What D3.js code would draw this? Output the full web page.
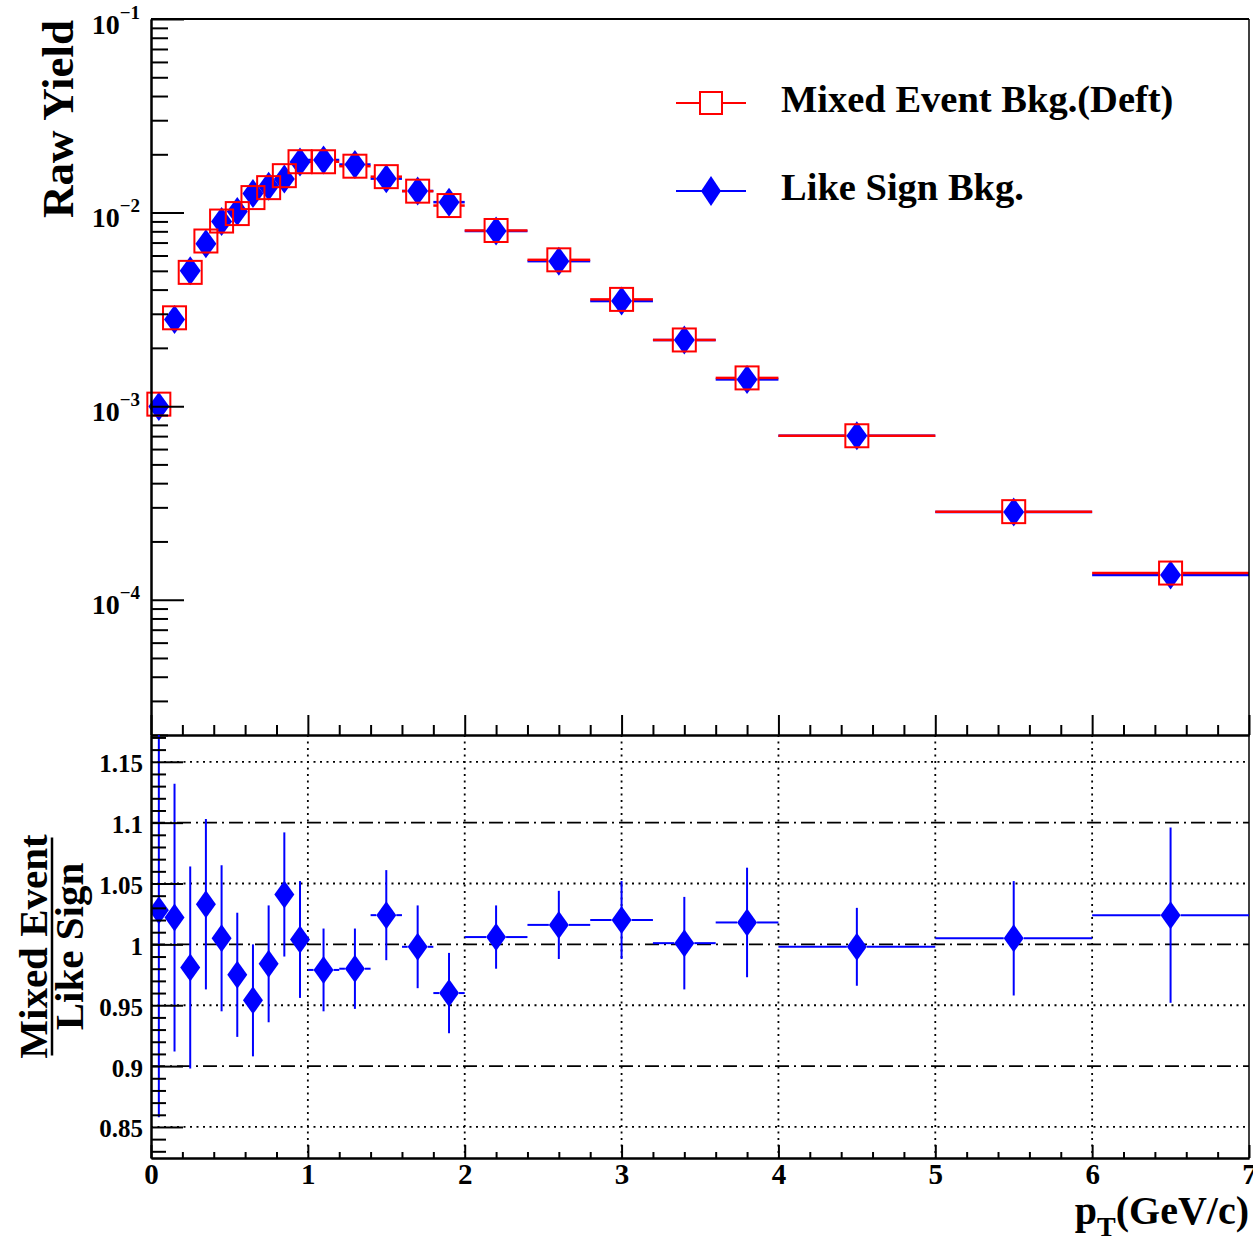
<!DOCTYPE html>
<html>
<head>
<meta charset="utf-8">
<script src="https://cdn.jsdelivr.net/npm/d3@7"></script>
<style>
  body { margin: 0; background: #fff; }
  text { font-family: "Liberation Serif", "Times New Roman", serif; font-weight: bold; fill: #000; }
</style>
</head>
<body>
<svg id="chart" width="1253" height="1250"></svg>
<script>
// pT bins (GeV/c)
const binLow  = [0, 0.1, 0.2, 0.3, 0.4, 0.5, 0.6, 0.7, 0.8, 0.9, 1.0, 1.2, 1.4, 1.6, 1.8, 2.0, 2.4, 2.8, 3.2, 3.6, 4, 5, 6];
const binHigh = [0.1, 0.2, 0.3, 0.4, 0.5, 0.6, 0.7, 0.8, 0.9, 1.0, 1.2, 1.4, 1.6, 1.8, 2.0, 2.4, 2.8, 3.2, 3.6, 4.0, 5, 6, 7];

// raw yields
const mixedYield = [1.024e-3, 2.86e-3, 4.91e-3, 7.13e-3, 9.04e-3, 9.88e-3, 1.195e-2, 1.345e-2, 1.551e-2, 1.831e-2,
  1.83e-2, 1.736e-2, 1.533e-2, 1.29e-2, 1.087e-2, 8.08e-3, 5.70e-3, 3.56e-3, 2.197e-3, 1.399e-3, 7.03e-4, 2.85e-4, 1.373e-4];
const likeSignYield = [9.96e-4, 2.80e-3, 5.0e-3, 6.90e-3, 9.0e-3, 1.013e-2, 1.253e-2, 1.367e-2, 1.49e-2, 1.824e-2,
  1.869e-2, 1.771e-2, 1.497e-2, 1.293e-2, 1.132e-2, 8.03e-3, 5.61e-3, 3.49e-3, 2.195e-3, 1.374e-3, 7.04e-4, 2.836e-4, 1.341e-4];

// mixed / like sign
const ratio = [1.028, 1.022, 0.981, 1.033, 1.005, 0.975, 0.954, 0.984, 1.041, 1.004,
  0.979, 0.980, 1.024, 0.998, 0.960, 1.006, 1.016, 1.020, 1.001, 1.018, 0.998, 1.005, 1.024];
const ratioErr = [0.17, 0.11, 0.083, 0.07, 0.06, 0.051, 0.046, 0.048, 0.051, 0.048,
  0.034, 0.033, 0.037, 0.034, 0.033, 0.026, 0.028, 0.032, 0.038, 0.045, 0.032, 0.047, 0.072];

const xMajor = [0, 1, 2, 3, 4, 5, 6, 7];
const yTopMajor = [1e-4, 1e-3, 1e-2, 1e-1];
const yBotMajor = [0.85, 0.9, 0.95, 1, 1.05, 1.1, 1.15];
const dashDotLevels = [0.9, 1, 1.1];
const dottedLevels = [0.85, 0.95, 1.05, 1.15];
const legendLabels = ["Mixed Event Bkg.(Deft)", "Like Sign Bkg."];

const RED = "#ff0000", BLUE = "#0000ff";

const svg = d3.select("#chart");
const L = 151, R = 1249, topT = 19, topB = 735, botB = 1158;

const x = d3.scaleLinear().domain([0, 7]).range([L, R]);
const yTop = d3.scaleLog().domain([2e-5, 0.1]).range([topB, topT]);
const yBot = d3.scaleLinear().domain([0.8245, 1.172]).range([botB, topB]);

const bins = binLow.map((lo, i) => ({
  lo, hi: binHigh[i], c: (lo + binHigh[i]) / 2,
  me: mixedYield[i], ls: likeSignYield[i], r: ratio[i], e: ratioErr[i]
}));

const diamond = "M0,-14.5L10.5,0L0,14.5L-10.5,0Z";

// ---------- upper pad ----------
const topG = svg.append("g");

// like sign first, mixed event drawn over it
function hBars(g, key, color, gap) {
  bins.forEach(d => {
    const cx = x(d.c), cy = yTop(d[key]);
    [[x(d.lo), cx - gap], [cx + gap, x(d.hi)]].forEach(([a, b]) => {
      if (b - a > 0.5) {
        g.append("line").attr("x1", a).attr("x2", b).attr("y1", cy).attr("y2", cy)
          .attr("stroke", color).attr("stroke-width", 2.5);
      }
    });
  });
}
hBars(topG, "ls", BLUE, 10.5);
hBars(topG, "me", RED, 11.5);

topG.selectAll("path.ls").data(bins).join("path")
  .attr("class", "ls")
  .attr("d", diamond)
  .attr("transform", d => `translate(${x(d.c)},${yTop(d.ls)})`)
  .attr("fill", BLUE);

topG.selectAll("rect.me").data(bins).join("rect")
  .attr("class", "me")
  .attr("x", d => x(d.c) - 11.5).attr("y", d => yTop(d.me) - 11.5)
  .attr("width", 23).attr("height", 23)
  .attr("fill", "none").attr("stroke", RED).attr("stroke-width", 2);

// frame top & right
svg.append("line").attr("x1", L).attr("x2", R).attr("y1", topT).attr("y2", topT)
  .attr("stroke", "#000").attr("stroke-width", 2);
svg.append("line").attr("x1", R).attr("x2", R).attr("y1", topT).attr("y2", botB)
  .attr("stroke", "#000").attr("stroke-width", 1.5);

// log y axis
const yTopMinor = yTop.ticks().filter(v => !yTopMajor.some(m => Math.abs(m - v) / m < 1e-6));
svg.append("g").attr("transform", `translate(${L},0)`)
  .call(d3.axisLeft(yTop).tickValues(yTopMinor).tickSizeInner(-17).tickSizeOuter(0).tickFormat(""));
const yTopAxis = svg.append("g").attr("transform", `translate(${L},0)`)
  .call(d3.axisLeft(yTop).tickValues(yTopMajor).tickSizeInner(-33).tickSizeOuter(0).tickFormat(""));
yTopAxis.selectAll(".tick").each(function (d) {
  const t = d3.select(this).append("text")
    .attr("x", -11).attr("y", 14).attr("text-anchor", "end");
  t.append("tspan").attr("font-size", 28).text("10");
  t.append("tspan").attr("font-size", 19).attr("dy", -15).text("\u2212" + Math.round(-Math.log10(d)));
});

// x ticks on the bottom edge of the upper pad
const xMinor = d3.range(0, 7.001, 0.2).filter(v => Math.abs(v - Math.round(v)) > 1e-6);
svg.append("g").attr("transform", `translate(0,${topB})`)
  .call(d3.axisBottom(x).tickValues(xMinor).tickSizeInner(-10).tickSizeOuter(0).tickFormat(""));
svg.append("g").attr("transform", `translate(0,${topB})`)
  .call(d3.axisBottom(x).tickValues(xMajor).tickSizeInner(-20).tickSizeOuter(0).tickFormat(""));

// ---------- lower pad ----------
const botG = svg.append("g");
svg.append("defs").append("clipPath").attr("id", "botClip")
  .append("rect").attr("x", L).attr("y", topB).attr("width", R - L).attr("height", botB - topB);

// grid
botG.selectAll("line.vgrid").data(xMajor.slice(1, -1)).join("line")
  .attr("class", "vgrid")
  .attr("x1", d => x(d)).attr("x2", d => x(d)).attr("y1", topB).attr("y2", botB)
  .attr("stroke", "#000").attr("stroke-width", 1.8).attr("stroke-dasharray", "2,4.5");
botG.selectAll("line.hgrid").data(dottedLevels).join("line")
  .attr("class", "hgrid")
  .attr("x1", L).attr("x2", R).attr("y1", d => yBot(d)).attr("y2", d => yBot(d))
  .attr("stroke", "#000").attr("stroke-width", 1.8).attr("stroke-dasharray", "2,4.5");
botG.selectAll("line.ref").data(dashDotLevels).join("line")
  .attr("class", "ref")
  .attr("x1", L).attr("x2", R).attr("y1", d => yBot(d)).attr("y2", d => yBot(d))
  .attr("stroke", "#000").attr("stroke-width", 1.8).attr("stroke-dasharray", "14,5,2,5");

// ratio points
const pts = botG.append("g").attr("clip-path", "url(#botClip)");
bins.forEach(d => {
  const cx = x(d.c), cy = yBot(d.r);
  pts.append("line").attr("x1", cx).attr("x2", cx)
    .attr("y1", yBot(d.r - d.e)).attr("y2", yBot(d.r + d.e))
    .attr("stroke", BLUE).attr("stroke-width", 2);
  [[x(d.lo), cx - 10], [cx + 10, x(d.hi)]].forEach(([a, b]) => {
    if (b - a > 0.5) {
      pts.append("line").attr("x1", a).attr("x2", b).attr("y1", cy).attr("y2", cy)
        .attr("stroke", BLUE).attr("stroke-width", 2);
    }
  });
});
pts.selectAll("path.rt").data(bins).join("path")
  .attr("class", "rt")
  .attr("d", "M0,-14L10,0L0,14L-10,0Z")
  .attr("transform", d => `translate(${x(d.c)},${yBot(d.r)})`)
  .attr("fill", BLUE);

// lower pad axes
const yBotMinor = d3.range(0.83, 1.171, 0.01).filter(v => !yBotMajor.some(m => Math.abs(m - v) < 1e-6));
svg.append("g").attr("transform", `translate(${L},0)`)
  .call(d3.axisLeft(yBot).tickValues(yBotMinor).tickSizeInner(-15).tickSizeOuter(0).tickFormat(""));
svg.append("g").attr("transform", `translate(${L},0)`)
  .call(d3.axisLeft(yBot).tickValues(yBotMajor).tickSizeInner(-32).tickSizeOuter(0).tickPadding(8)
    .tickFormat(d => String(+d.toFixed(2))))
  .selectAll("text").attr("font-size", 25).attr("dy", "0.4em");

svg.append("g").attr("transform", `translate(0,${botB})`)
  .call(d3.axisBottom(x).tickValues(xMinor).tickSizeInner(-6).tickSizeOuter(0).tickFormat(""));
svg.append("g").attr("transform", `translate(0,${botB})`)
  .call(d3.axisBottom(x).tickValues(xMajor).tickSizeInner(-13).tickSizeOuter(0).tickPadding(5).tickFormat(d3.format("d")))
  .selectAll("text").attr("font-size", 29);

svg.selectAll(".domain").attr("stroke", "#000").attr("stroke-width", 2);
svg.selectAll(".tick line").attr("stroke", "#000").attr("stroke-width", 2);
svg.selectAll("g[font-family]").attr("font-family", null);
svg.selectAll(".tick text").attr("fill", "#000");

// ---------- titles ----------
svg.append("text").attr("transform", `translate(73,${topT + 1}) rotate(-90)`)
  .attr("text-anchor", "end").attr("font-size", 45).text("Raw Yield");

const midBot = (topB + botB) / 2;
svg.append("text").attr("transform", `translate(47,${midBot}) rotate(-90)`)
  .attr("text-anchor", "middle").attr("font-size", 41).text("Mixed Event");
svg.append("line").attr("x1", 52).attr("x2", 52).attr("y1", midBot - 109).attr("y2", midBot + 109)
  .attr("stroke", "#000").attr("stroke-width", 2.5);
svg.append("text").attr("transform", `translate(83,${midBot}) rotate(-90)`)
  .attr("text-anchor", "middle").attr("font-size", 41).text("Like Sign");

const xt = svg.append("text").attr("x", R).attr("y", 1224).attr("text-anchor", "end").attr("font-size", 40);
xt.append("tspan").text("p");
xt.append("tspan").attr("font-size", 28).attr("dy", 12).text("T");
xt.append("tspan").attr("dy", -12).text("(GeV/c)");

// ---------- legend ----------
const leg = svg.append("g");
const legY = [103, 191];
legY.forEach((ly, i) => {
  leg.append("line").attr("x1", 676).attr("x2", 746).attr("y1", ly).attr("y2", ly)
    .attr("stroke", i === 0 ? RED : BLUE).attr("stroke-width", 2);
  if (i === 0) {
    leg.append("rect").attr("x", 711 - 11).attr("y", ly - 11).attr("width", 22).attr("height", 22)
      .attr("fill", "#fff").attr("stroke", RED).attr("stroke-width", 2);
  } else {
    leg.append("path").attr("d", "M0,-15L10,0L0,15L-10,0Z").attr("transform", `translate(711,${ly})`)
      .attr("fill", BLUE);
  }
  leg.append("text").attr("x", 781).attr("y", ly + 9).attr("font-size", 38.5).text(legendLabels[i]);
});
</script>
</body>
</html>
